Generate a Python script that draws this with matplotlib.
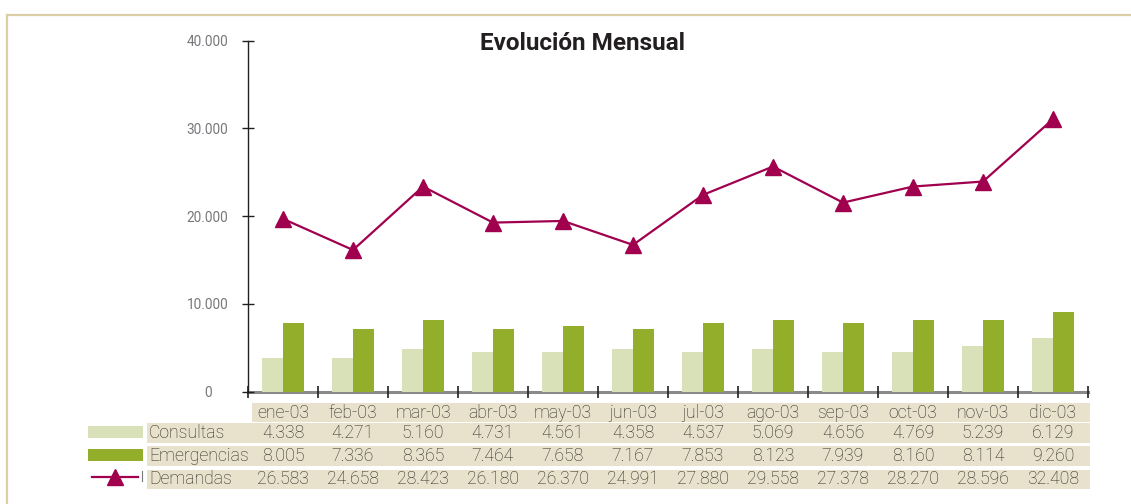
import numpy as np
import matplotlib.pyplot as plt
from matplotlib import font_manager
from matplotlib.patches import Rectangle
from matplotlib.transforms import blended_transform_factory, ScaledTranslation

meses = ["ene-03", "feb-03", "mar-03", "abr-03", "may-03", "jun-03",
         "jul-03", "ago-03", "sep-03", "oct-03", "nov-03", "dic-03"]

# valores impresos en la tabla
consultas_tab = ["4.338", "4.271", "5.160", "4.731", "4.561", "4.358",
                 "4.537", "5.069", "4.656", "4.769", "5.239", "6.129"]
emergencias_tab = ["8.005", "7.336", "8.365", "7.464", "7.658", "7.167",
                   "7.853", "8.123", "7.939", "8.160", "8.114", "9.260"]
demandas_tab = ["26.583", "24.658", "28.423", "26.180", "26.370", "24.991",
                "27.880", "29.558", "27.378", "28.270", "28.596", "32.408"]

# alturas tal como se ven dibujadas en el grafico
consultas = [3840, 3840, 4870, 4530, 4530, 4870, 4530, 4870, 4530, 4530, 5210, 6120]
emergencias = [7830, 7150, 8180, 7150, 7490, 7150, 7830, 8180, 7830, 8180, 8180, 9080]
demandas = [19700, 16150, 23380, 19270, 19460, 16730,
            22430, 25660, 21550, 23380, 23950, 31060]

yticks = [0, 10000, 20000, 30000, 40000]

C_CONS = "#d9e1b8"
C_EMER = "#93ae2a"
C_DEM = "#a0004e"
C_TAB = "#e8e1cb"
C_TXT = "#2c2824"
C_FRAME = "#dccfa8"


def pick_font(names):
    for n in names:
        try:
            font_manager.findfont(n, fallback_to_default=False)
            return n
        except ValueError:
            pass
    return "DejaVu Sans"


font = pick_font(["Roboto", "DejaVu Sans"])
fs_tab = 12.7
fs_tick = 9.8
fs_title = 17.5
plt.rcParams["font.family"] = [font, "DejaVu Sans"]

fig = plt.figure(figsize=(11.31, 5.04), dpi=100)
ax = fig.add_axes([248 / 1131, 1 - 391.7 / 504, 840 / 1131, 351 / 504])

x = np.arange(len(meses))
w = 0.295
ax.bar(x - w / 2, consultas, w, color=C_CONS, zorder=2)
ax.bar(x + w / 2, emergencias, w, color=C_EMER, zorder=2)
ax.plot(x, demandas, color=C_DEM, lw=1.6, marker="^", ms=11, zorder=3)

ax.set_xlim(-0.5, len(meses) - 0.5)
ax.set_ylim(0, 40000)
ax.set_yticks(yticks)
ax.set_yticklabels([f"{v:,}".replace(",", ".") for v in yticks])
ax.set_xticks(np.arange(len(meses) + 1) - 0.5)
ax.set_xticklabels([])
ax.tick_params(axis="y", direction="inout", length=8, width=1, color="#231f20",
               labelsize=fs_tick, labelcolor="#77787b", pad=10)
ax.tick_params(axis="x", direction="inout", length=9, width=1.2, color="#231f20")
for s in ["top", "right"]:
    ax.spines[s].set_visible(False)
ax.spines["left"].set_color("#231f20")
ax.spines["left"].set_linewidth(1)
ax.spines["bottom"].set_color("#8a8a8a")
ax.spines["bottom"].set_linewidth(2.2)
ax.spines["bottom"].set_zorder(1)

# el "0" va algo mas a la izquierda que el resto
lbl0 = ax.get_yticklabels()[0]
lbl0.set_transform(lbl0.get_transform() + ScaledTranslation(-0.17, 0, fig.dpi_scale_trans))

# capa en pixeles para tabla, leyenda y marco
lay = fig.add_axes([0, 0, 1, 1], zorder=5)
lay.set_xlim(0, 1131)
lay.set_ylim(504, 0)
lay.axis("off")
colx = blended_transform_factory(ax.transData, lay.transData)

lay.plot([7, 1131], [15, 15], color=C_FRAME, lw=1.6)
lay.plot([7, 7], [15, 504], color=C_FRAME, lw=1.6)

lay.text(583, 43, "Evolución Mensual", ha="center", va="center",
         fontsize=fs_title, fontweight="bold", color="#231f20")

# cabecera
lay.add_patch(Rectangle((252, 403), 838, 18.5, color=C_TAB, lw=0))
for i, m in enumerate(meses):
    lay.text(i, 412.5, m, transform=colx, ha="center", va="center",
             fontsize=fs_tab, fontweight="light", color=C_TXT)

filas = [("Consultas", consultas_tab, 423), ("Emergencias", emergencias_tab, 446),
         ("Demandas", demandas_tab, 469.5)]
for nombre, vals, y0 in filas:
    lay.add_patch(Rectangle((147, y0), 943, 19.5, color=C_TAB, lw=0))
    lay.text(149, y0 + 10, nombre, ha="left", va="center", fontsize=fs_tab,
             fontweight="light", color=C_TXT)
    for i, v in enumerate(vals):
        lay.text(i, y0 + 10, v, transform=colx, ha="center", va="center",
                 fontsize=fs_tab, fontweight="light", color=C_TXT)

# claves de la leyenda
lay.add_patch(Rectangle((88, 426), 55, 12, color=C_CONS, lw=0))
lay.add_patch(Rectangle((88, 448.5), 55, 12.5, color=C_EMER, lw=0))
lay.plot([92, 138], [477, 477], color=C_DEM, lw=1.6)
lay.plot([115], [477], color=C_DEM, marker="^", ms=11, lw=0)
lay.plot([142, 142], [471, 481], color="#777777", lw=0.8)

fig.savefig("out.png", dpi=100)
